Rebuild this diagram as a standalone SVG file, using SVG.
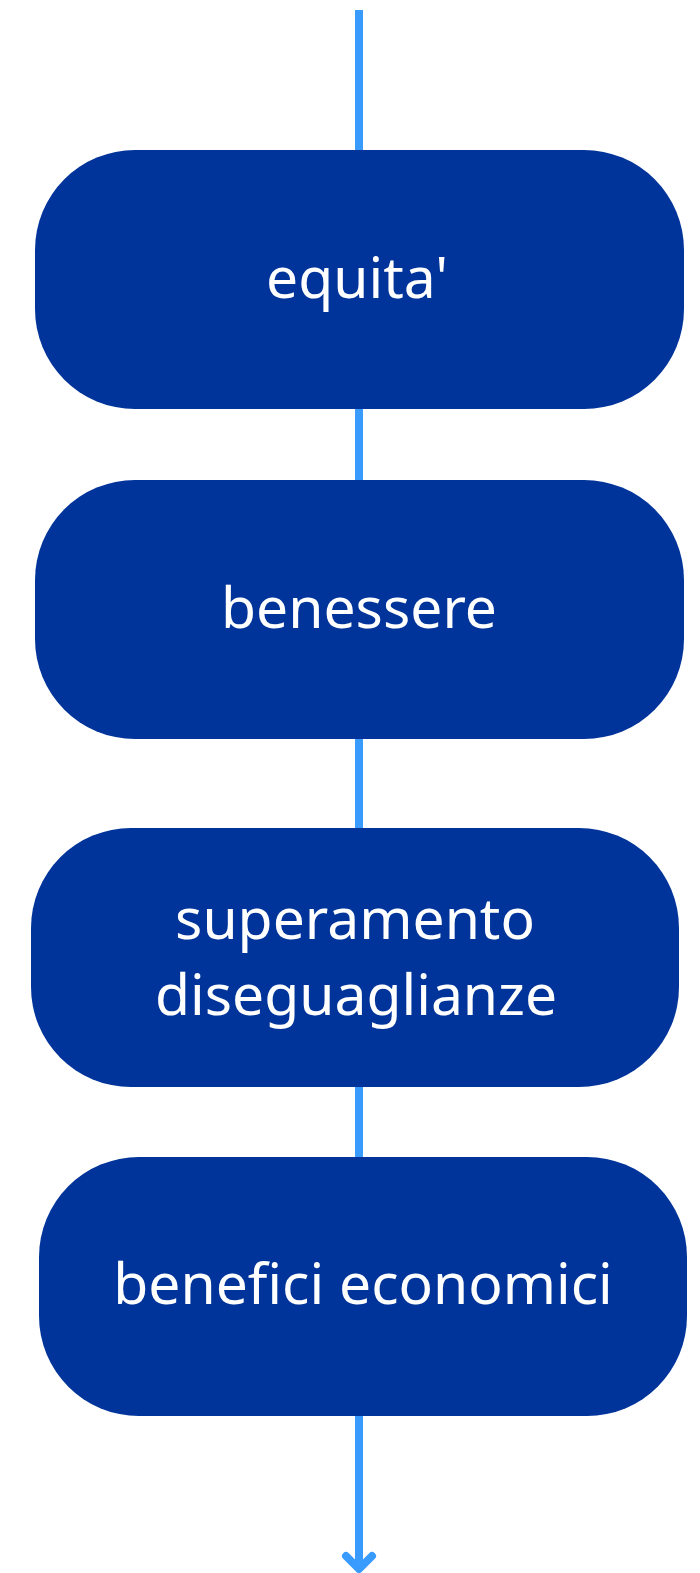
<svg xmlns="http://www.w3.org/2000/svg" width="700" height="1573" viewBox="0 0 700 1573">
<style>
.box{fill:#00349a}
.t{font-family:"Noto Sans",sans-serif;font-size:57px;fill:#ffffff;text-anchor:middle}
.c{stroke:#3a9bff;stroke-width:8;fill:none}
</style>
<rect width="700" height="1573" fill="#ffffff"/>
<g id="connectors">
<line class="c" x1="359" y1="10" x2="359" y2="1568"/>
<polyline class="c" points="346,1556 359,1569 372,1556" stroke-linecap="round" stroke-linejoin="round"/>
</g>
<g id="n1"><rect class="box" x="35" y="150" width="649" height="259" rx="100"/><text class="t" x="357" y="298">equita'</text></g>
<g id="n2"><rect class="box" x="35" y="480" width="649" height="259" rx="100"/><text class="t" x="359" y="628">benessere</text></g>
<g id="n3"><rect class="box" x="31" y="828" width="648" height="259" rx="100"/><text class="t" x="355" y="939">superamento</text><text class="t" x="356" y="1015">diseguaglianze</text></g>
<g id="n4"><rect class="box" x="39" y="1157" width="648" height="259" rx="100"/><text class="t" x="363" y="1304">benefici economici</text></g>
</svg>
